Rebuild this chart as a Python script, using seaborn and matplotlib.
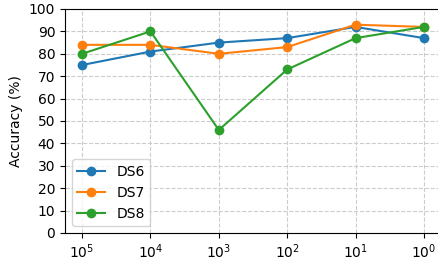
import numpy as np
import pandas as pd
import seaborn as sns
import matplotlib.pyplot as plt

# valores
escalas = [1e5, 1e4, 1e3, 1e2, 1e1, 1e0]
ds6 = [75, 81, 85, 87, 92, 87]
ds7 = [84, 84, 80, 83, 93, 92]
ds8 = [80, 90, 46, 73, 87, 92]
series = ['DS6', 'DS7', 'DS8']

dados = pd.DataFrame({
    'escala': escalas * 3,
    'acc': ds6 + ds7 + ds8,
    'serie': [s for s in series for _ in escalas],
})

fig = plt.figure(figsize=(4.39, 2.61), dpi=100)
ax = fig.add_axes([65 / 439, 28 / 261, 376 / 439, 224 / 261])

sns.lineplot(data=dados, x='escala', y='acc', hue='serie', marker='o',
             markersize=7, markeredgewidth=0, linewidth=1.5,
             palette=['#1f77b4', '#ff7f0e', '#2ca02c'], ax=ax)

ax.set_xscale('log')
ax.invert_xaxis()
ax.set_xticks(escalas)
ax.minorticks_off()
ax.set_ylim(0, 100)
ax.set_yticks(range(0, 101, 10))
ax.set_xlabel('')
ax.set_ylabel('Accuracy (%)')
ax.grid(True, linestyle='--', color='#cccccc', linewidth=0.8)
ax.set_axisbelow(True)
ax.spines['right'].set_visible(False)
ax.legend(loc='lower left', title=None)

fig.savefig('out.png', dpi=100)
